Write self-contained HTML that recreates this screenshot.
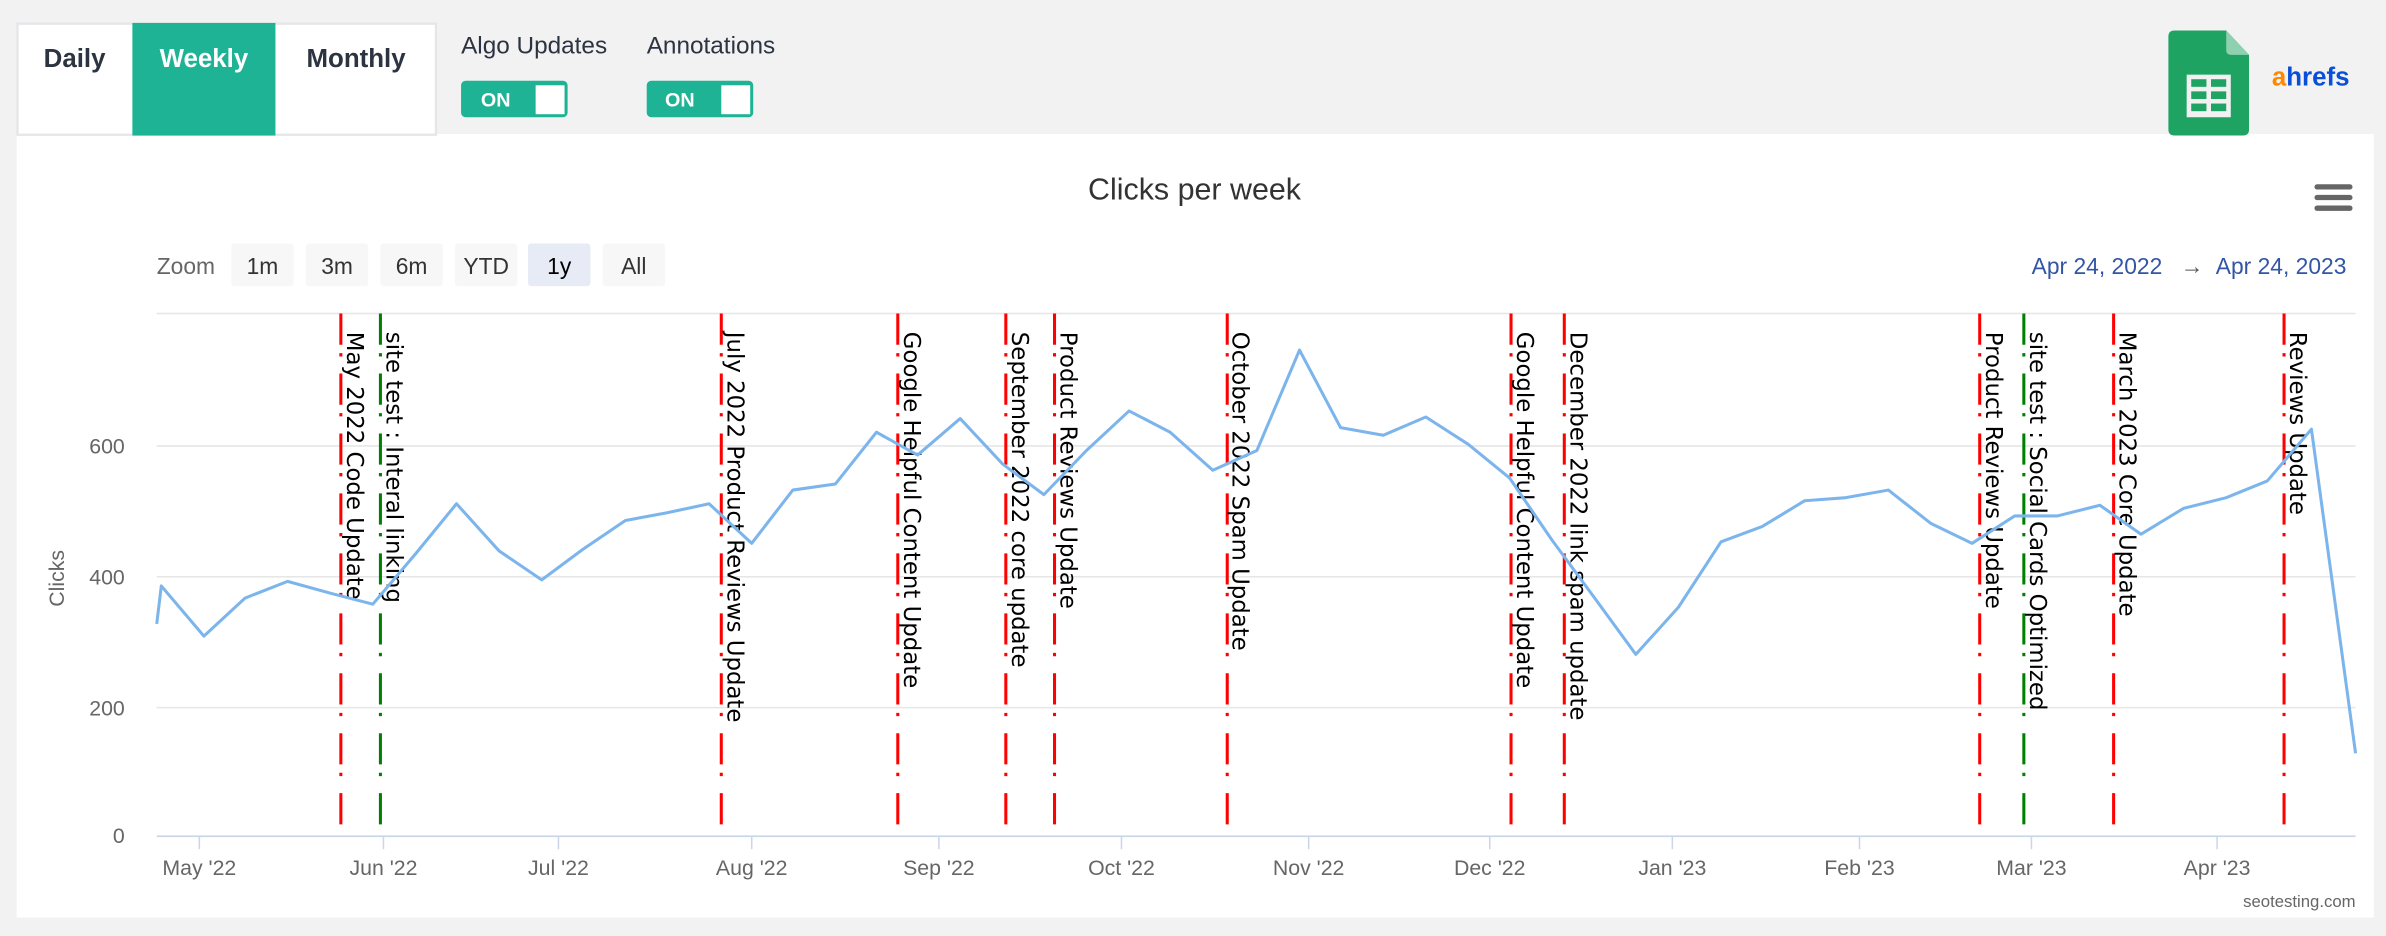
<!DOCTYPE html>
<html><head><meta charset="utf-8"><style>
html,body{margin:0;padding:0;background:#f2f2f2;}
svg{display:block;}
</style></head><body>
<svg width="2386" height="936" viewBox="0 0 1568 615" xmlns="http://www.w3.org/2000/svg" font-family="Liberation Sans, sans-serif">
<rect x="0" y="0" width="1568" height="615" fill="#f2f2f2"/>
<rect x="11" y="88" width="1549" height="515" fill="#fff"/>
<rect x="11.5" y="15.5" width="275" height="73" fill="#fff" stroke="#e4e6e8" stroke-width="1.5"/>
<rect x="87" y="15" width="94" height="74" fill="#1db394"/>
<g font-weight="bold" font-size="17" text-anchor="middle">
<text x="49" y="44" fill="#2c3442">Daily</text>
<text x="134" y="44" fill="#fff">Weekly</text>
<text x="234" y="44" fill="#2c3442">Monthly</text>
</g>
<text x="303" y="35" font-size="16" fill="#2c3442">Algo Updates</text>
<text x="425" y="35" font-size="16" fill="#2c3442">Annotations</text>
<rect x="303" y="53" width="70" height="24" rx="3" fill="#1db394"/>
<rect x="352" y="56" width="19" height="19" fill="#fff"/>
<text x="316" y="70" font-size="13" font-weight="bold" fill="#fff">ON</text>
<rect x="425" y="53" width="70" height="24" rx="3" fill="#1db394"/>
<rect x="474" y="56" width="19" height="19" fill="#fff"/>
<text x="437" y="70" font-size="13" font-weight="bold" fill="#fff">ON</text>
<path d="M1428,20 H1463 L1478,36 V85 Q1478,89 1474,89 H1429 Q1425,89 1425,85 V24 Q1425,20 1429,20 Z" fill="#1ea362"/>
<path d="M1463,20 L1478,36 H1466 Q1463,36 1463,33 Z" fill="#8ed1b1"/>
<rect x="1437" y="49" width="29" height="28" fill="#f1f1f1"/>
<g fill="#1ea362"><rect x="1440" y="52" width="10" height="5"/><rect x="1453" y="52" width="10" height="5"/><rect x="1440" y="60" width="10" height="5"/><rect x="1453" y="60" width="10" height="5"/><rect x="1440" y="68" width="10" height="5"/><rect x="1453" y="68" width="10" height="5"/></g>
<text x="1493" y="56" font-size="17" font-weight="bold" fill="#0a4fd8"><tspan fill="#ff8800">a</tspan>hrefs</text>
<text x="785" y="131" font-size="20" fill="#333" text-anchor="middle">Clicks per week</text>
<g fill="#666"><rect x="1521" y="121" width="25" height="3.5" rx="1.7"/><rect x="1521" y="128" width="25" height="3.5" rx="1.7"/><rect x="1521" y="135" width="25" height="3.5" rx="1.7"/></g>
<text x="103" y="180" font-size="15" fill="#666">Zoom</text>
<g fill="#f7f7f7">
<rect x="152" y="160" width="41" height="28" rx="2"/><rect x="201" y="160" width="41" height="28" rx="2"/><rect x="250" y="160" width="41" height="28" rx="2"/><rect x="299" y="160" width="41" height="28" rx="2"/><rect x="347" y="160" width="41" height="28" fill="#e6ebf5" rx="2"/><rect x="396" y="160" width="41" height="28" rx="2"/>
</g>
<g font-size="15" fill="#333" text-anchor="middle">
<text x="172.5" y="180">1m</text><text x="221.5" y="180">3m</text><text x="270.5" y="180">6m</text><text x="319.5" y="180">YTD</text><text x="367.5" y="180" fill="#000">1y</text><text x="416.5" y="180">All</text>
</g>
<text x="1542" y="180" font-size="15" fill="#3355a5" text-anchor="end">Apr 24, 2022 <tspan fill="#555" dx="8">→</tspan><tspan dx="8">Apr 24, 2023</tspan></text>
<g stroke="#e6e6e6" stroke-width="1">
<line x1="103" y1="206" x2="1548" y2="206"/><line x1="103" y1="293" x2="1548" y2="293"/><line x1="103" y1="379" x2="1548" y2="379"/><line x1="103" y1="465" x2="1548" y2="465"/>
</g>
<line x1="103" y1="549.5" x2="1548" y2="549.5" stroke="#ccd6eb" stroke-width="1.2"/>
<g font-size="14" fill="#666" text-anchor="end">
<text x="82" y="298">600</text><text x="82" y="384">400</text><text x="82" y="470">200</text><text x="82" y="554">0</text>
</g>
<text transform="translate(42,380) rotate(-90)" font-size="14" fill="#666" text-anchor="middle">Clicks</text>
<g stroke="#ccd6eb" stroke-width="1">
<line x1="131" y1="550" x2="131" y2="558"/><line x1="252" y1="550" x2="252" y2="558"/><line x1="367" y1="550" x2="367" y2="558"/><line x1="494" y1="550" x2="494" y2="558"/><line x1="617" y1="550" x2="617" y2="558"/><line x1="737" y1="550" x2="737" y2="558"/><line x1="860" y1="550" x2="860" y2="558"/><line x1="979" y1="550" x2="979" y2="558"/><line x1="1099" y1="550" x2="1099" y2="558"/><line x1="1222" y1="550" x2="1222" y2="558"/><line x1="1335" y1="550" x2="1335" y2="558"/><line x1="1457" y1="550" x2="1457" y2="558"/>
</g>
<g font-size="14" fill="#666" text-anchor="middle">
<text x="131" y="575">May '22</text><text x="252" y="575">Jun '22</text><text x="367" y="575">Jul '22</text><text x="494" y="575">Aug '22</text><text x="617" y="575">Sep '22</text><text x="737" y="575">Oct '22</text><text x="860" y="575">Nov '22</text><text x="979" y="575">Dec '22</text><text x="1099" y="575">Jan '23</text><text x="1222" y="575">Feb '23</text><text x="1335" y="575">Mar '23</text><text x="1457" y="575">Apr '23</text>
</g>
<text x="1548" y="596" font-size="11" fill="#666" text-anchor="end">seotesting.com</text>
<g stroke-width="2" stroke-dasharray="20.5 5.5 2.2 11.2" fill="none">
<line x1="224" y1="206" x2="224" y2="542" stroke="#ff0000"/>
<line x1="250" y1="206" x2="250" y2="542" stroke="#008000"/>
<line x1="474" y1="206" x2="474" y2="542" stroke="#ff0000"/>
<line x1="590" y1="206" x2="590" y2="542" stroke="#ff0000"/>
<line x1="661" y1="206" x2="661" y2="542" stroke="#ff0000"/>
<line x1="693" y1="206" x2="693" y2="542" stroke="#ff0000"/>
<line x1="806.5" y1="206" x2="806.5" y2="542" stroke="#ff0000"/>
<line x1="993" y1="206" x2="993" y2="542" stroke="#ff0000"/>
<line x1="1028" y1="206" x2="1028" y2="542" stroke="#ff0000"/>
<line x1="1301" y1="206" x2="1301" y2="542" stroke="#ff0000"/>
<line x1="1330" y1="206" x2="1330" y2="542" stroke="#008000"/>
<line x1="1389" y1="206" x2="1389" y2="542" stroke="#ff0000"/>
<line x1="1501" y1="206" x2="1501" y2="542" stroke="#ff0000"/>
</g>
<g font-family="DejaVu Sans, sans-serif" font-size="15" fill="#000">
<text transform="translate(228,218) rotate(90)">May 2022 Code Update</text>
<text transform="translate(254,218) rotate(90)">site test : Interal linking</text>
<text transform="translate(478,218) rotate(90)">July 2022 Product Reviews Update</text>
<text transform="translate(594,218) rotate(90)">Google Helpful Content Update</text>
<text transform="translate(665,218) rotate(90)">September 2022 core update</text>
<text transform="translate(697,218) rotate(90)">Product Reviews Update</text>
<text transform="translate(810,218) rotate(90)">October 2022 Spam Update</text>
<text transform="translate(997,218) rotate(90)">Google Helpful Content Update</text>
<text transform="translate(1032,218) rotate(90)">December 2022 link spam update</text>
<text transform="translate(1305,218) rotate(90)">Product Reviews Update</text>
<text transform="translate(1334,218) rotate(90)">site test : Social Cards Optimized</text>
<text transform="translate(1393,218) rotate(90)">March 2023 Core Update</text>
<text transform="translate(1505,218) rotate(90)">Reviews Update</text>
</g>
<polyline fill="none" stroke="#7cb5ec" stroke-width="2" stroke-linejoin="round" points="103,410 106,385 134,418 161,393 189,382 218,390 245,397 273,364 300,331 328,362 356,381 383,361 411,342 438,337 466,331 494,357 521,322 549,318 576,284 603,299 631,275 659,305 686,325 714,296 742,270 769,284 797,309 826,296 854,230 881,281 909,286 937,274 965,292 992,314 1020,355 1048,393 1075,430 1103,399 1131,356 1158,346 1186,329 1213,327 1241,322 1269,344 1296,357 1324,339 1352,339 1380,332 1407,351 1435,334 1463,327 1490,316 1519,282 1548,495"/>
</svg>
</body></html>
